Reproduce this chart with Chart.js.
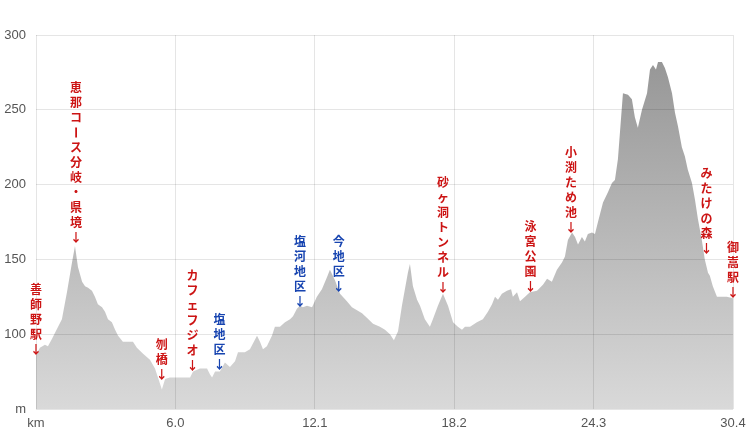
<!DOCTYPE html>
<html>
<head>
<meta charset="utf-8">
<script src="https://cdn.jsdelivr.net/npm/chart.js@4.4.1/dist/chart.umd.min.js"></script>
<style>
  html, body { margin: 0; padding: 0; background: #fff; }
  #wrap { width: 749px; height: 434px; position: relative; }
</style>
</head>
<body>
<div id="wrap"><canvas id="chart"></canvas></div>
<script>
// distance (km) and elevation (m) of the course profile
const distKm = [
  0.00, 0.17, 0.39, 0.52, 0.70, 0.83, 1.13, 1.35, 1.57, 1.70, 1.83, 2.01, 2.14, 2.27, 2.44, 2.57,
  2.70, 2.88, 3.01, 3.14, 3.31, 3.45, 3.58, 3.79, 4.10, 4.23, 4.40, 4.67, 4.97, 5.19, 5.32, 5.49,
  5.63, 5.84, 6.28, 6.72, 6.85, 7.15, 7.46, 7.59, 7.68, 7.81, 8.02, 8.24, 8.46, 8.68, 8.81, 9.11,
  9.33, 9.64, 9.77, 9.90, 10.07, 10.29, 10.42, 10.64, 10.86, 11.08, 11.21, 11.38, 11.51, 11.64,
  11.82, 12.04, 12.25, 12.47, 12.69, 12.82, 13.04, 13.26, 13.56, 13.78, 14.00, 14.22, 14.43, 14.70,
  15.00, 15.22, 15.44, 15.61, 15.79, 15.96, 16.09, 16.22, 16.31, 16.44, 16.62, 16.75, 16.96, 17.18,
  17.31, 17.53, 17.75, 17.97, 18.19, 18.40, 18.58, 18.71, 18.93, 19.23, 19.49, 19.71, 19.89, 20.02,
  20.15, 20.32, 20.54, 20.72, 20.80, 20.98, 21.11, 21.33, 21.54, 21.85, 22.11, 22.29, 22.50, 22.72,
  22.94, 23.07, 23.20, 23.38, 23.51, 23.64, 23.81, 23.94, 24.07, 24.25, 24.38, 24.51, 24.73, 24.95,
  25.12, 25.25, 25.38, 25.47, 25.60, 25.82, 25.99, 26.12, 26.25, 26.43, 26.65, 26.78, 26.91, 27.04,
  27.13, 27.30, 27.43, 27.56, 27.74, 27.87, 28.00, 28.17, 28.30, 28.43, 28.61, 28.74, 28.87, 29.04,
  29.17, 29.31, 29.39, 29.52, 29.70, 29.83, 30.13, 30.40
];
const elevM = [
  86, 91, 93, 92, 97, 101, 110, 128, 148, 159, 145, 135, 132, 131, 129, 125,
  120, 118, 115, 110, 108, 103, 99, 95, 95, 95, 91, 87, 83, 77, 71, 63,
  70, 71, 71, 71, 75, 77, 77, 73, 71, 75, 75, 81, 78, 82, 88, 88,
  90, 99, 95, 90, 92, 99, 105, 105, 108, 110, 112, 117, 119, 118,
  119, 118, 125, 130, 138, 143, 136, 127, 122, 118, 116, 114, 111, 107,
  105, 103, 100, 96, 102, 119, 130, 141, 147, 132, 123, 119, 110, 105,
  110, 119, 127, 119, 108, 105, 103, 105, 105, 108, 110, 115, 120, 125,
  123, 127, 129, 130, 125, 128, 122, 125, 128, 129, 133, 137, 135, 143,
  148, 152, 163, 168, 165, 160, 165, 162, 167, 168, 167, 175, 188, 195,
  201, 203, 217, 235, 261, 260, 257, 245, 238, 250, 261, 277, 280, 277,
  282, 282, 278, 272, 261, 248, 239, 225, 219, 210, 201, 190, 177, 163,
  150, 141, 139, 132, 125, 125, 125, 124
];

// axis ticks
const xTicks = [0, 6.08, 12.16, 18.24, 24.32, 30.4];
const xTickLabels = ['km', '6.0', '12.1', '18.2', '24.3', '30.4'];
const yTicks = [50, 100, 150, 200, 250, 300];
const yTickLabels = ['m', '100', '150', '200', '250', '300'];

// place names along the course
const placeNames = ['善師野駅', '恵那コース分岐・県境', '刎橋', 'カフェフジオ', '塩地区', '塩河地区',
  '今地区', '砂ヶ洞トンネル', '泳宮公園', '小渕ため池', 'みたけの森', '御嵩駅'];
const placeKm = [0, 1.74, 5.49, 6.83, 8.0, 11.51, 13.21, 17.75, 21.57, 23.33, 29.24, 30.4];
const placeElev = [90, 164.7, 73.3, 79.3, 80, 122, 132, 131.3, 131.7, 171.3, 157.3, 128];
const placeKind = ['red', 'red', 'red', 'red', 'blue', 'blue', 'blue', 'red', 'red', 'red', 'red', 'red'];

const kindColor = { red: '#cc1414', blue: '#1744b0' };

const placeLabels = {
  id: 'placeLabels',
  afterDraw(chart) {
    const ctx = chart.ctx;
    const xs = chart.scales.x, ys = chart.scales.y;
    ctx.save();
    ctx.font = 'bold 12px "Noto Sans CJK JP", sans-serif';
    ctx.textAlign = 'center';
    ctx.textBaseline = 'middle';
    placeNames.forEach((name, i) => {
      const chars = Array.from(name + '↓');
      const x = xs.getPixelForValue(placeKm[i]);
      const yBottom = ys.getPixelForValue(placeElev[i]);
      ctx.fillStyle = kindColor[placeKind[i]];
      chars.forEach((c, j) => {
        const y = yBottom - (chars.length - 1 - j) * 15;
        if (c === 'ー') {
          // long vowel mark stands upright in vertical text
          ctx.save();
          ctx.translate(x, y);
          ctx.rotate(Math.PI / 2);
          ctx.fillText(c, 0, 0);
          ctx.restore();
        } else {
          ctx.fillText(c, x, y);
        }
      });
    });
    ctx.restore();
  }
};

function fillGradient(context) {
  const area = context.chart.chartArea;
  if (!area) return '#bbb';
  const g = context.chart.ctx.createLinearGradient(0, area.top, 0, area.bottom);
  g.addColorStop(0, '#929292');
  g.addColorStop(1, '#d9d9d9');
  return g;
}

new Chart(document.getElementById('chart'), {
  type: 'line',
  data: {
    datasets: [{
      data: distKm.map((d, i) => ({ x: d, y: elevM[i] })),
      fill: 'start',
      backgroundColor: fillGradient,
      borderWidth: 0,
      pointRadius: 0,
      tension: 0
    }]
  },
  options: {
    responsive: true,
    maintainAspectRatio: false,
    animation: false,
    layout: { padding: { top: 35, right: 16, bottom: 0, left: 0 } },
    plugins: {
      legend: { display: false },
      tooltip: { enabled: false }
    },
    scales: {
      x: {
        type: 'linear',
        min: 0,
        max: 30.4,
        afterBuildTicks: s => { s.ticks = xTicks.map(v => ({ value: v })); },
        afterFit: s => { s.height = 25; s.paddingLeft = 0; s.paddingRight = 0; },
        ticks: {
          padding: 7,
          maxRotation: 0,
          color: '#555',
          font: { family: 'Arial, "Liberation Sans"', size: 13 },
          callback: (v, i) => xTickLabels[i]
        },
        grid: { color: 'rgba(0,0,0,0.1)', drawTicks: false, z: 1 },
        border: { display: false }
      },
      y: {
        min: 50,
        max: 300,
        afterBuildTicks: s => { s.ticks = yTicks.map(v => ({ value: v })); },
        afterFit: s => { s.width = 36; },
        ticks: {
          padding: 10,
          color: '#555',
          font: { family: 'Arial, "Liberation Sans"', size: 13 },
          callback: (v, i) => yTickLabels[i]
        },
        grid: { color: 'rgba(0,0,0,0.1)', drawTicks: false, z: 1 },
        border: { display: false }
      }
    }
  },
  plugins: [placeLabels]
});
</script>
</body>
</html>
